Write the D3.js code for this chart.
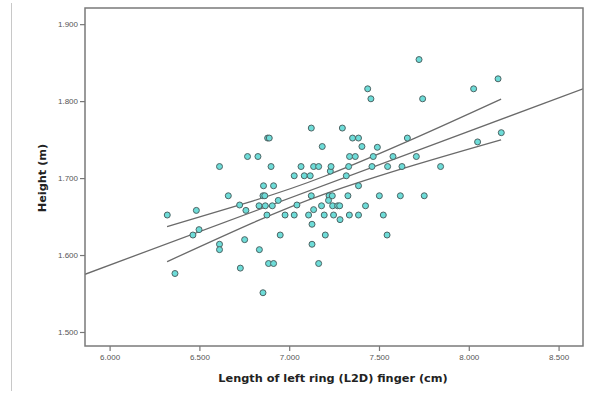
<!DOCTYPE html>
<html>
<head>
<meta charset="utf-8">
<script src="https://cdn.jsdelivr.net/npm/d3@7"></script>
<style>
  html, body { margin: 0; padding: 0; background: #fff; }
  svg { display: block; }
</style>
</head>
<body>
<svg id="chart" width="594" height="393"></svg>
<script>
// ---- Data ----
const fingerLength = [
  6.321, 6.364, 6.483, 6.464, 6.498, 6.612, 6.612, 6.612, 6.661, 6.724,
  6.759, 6.752, 6.728, 6.768, 6.826, 6.832, 6.834, 6.854, 6.857, 6.854,
  6.864, 6.867, 6.876, 6.880, 6.889, 6.899, 6.913, 6.906, 6.885, 6.913,
  6.939, 6.950, 6.977, 7.028, 7.028, 7.043, 7.066, 7.084, 7.117, 7.108,
  7.123, 7.123, 7.127, 7.127, 7.136, 7.136, 7.164, 7.184, 7.180, 7.195,
  7.201, 7.164, 7.229, 7.233, 7.222, 7.219, 7.240, 7.242, 7.247, 7.270,
  7.281, 7.283, 7.296, 7.318, 7.331, 7.327, 7.336, 7.335, 7.353, 7.368,
  7.386, 7.386, 7.386, 7.405, 7.425, 7.437, 7.455, 7.461, 7.468, 7.491,
  7.502, 7.524, 7.548, 7.545, 7.578, 7.619, 7.628, 7.658, 7.708, 7.723,
  7.743, 7.752, 7.843, 8.027, 8.049, 8.163, 8.181
];
const height = [
  1.652, 1.576, 1.658, 1.626, 1.633, 1.715, 1.614, 1.607, 1.677, 1.665,
  1.658, 1.620, 1.583, 1.728, 1.728, 1.664, 1.607, 1.551, 1.690, 1.677,
  1.677, 1.664, 1.652, 1.752, 1.752, 1.715, 1.690, 1.664, 1.589, 1.589,
  1.671, 1.626, 1.652, 1.652, 1.703, 1.665, 1.715, 1.703, 1.703, 1.652,
  1.765, 1.677, 1.640, 1.614, 1.659, 1.715, 1.715, 1.741, 1.664, 1.652,
  1.626, 1.589, 1.709, 1.715, 1.677, 1.671, 1.677, 1.664, 1.652, 1.664,
  1.664, 1.646, 1.765, 1.703, 1.715, 1.677, 1.728, 1.652, 1.752, 1.728,
  1.752, 1.690, 1.652, 1.741, 1.664, 1.816, 1.803, 1.715, 1.728, 1.740,
  1.677, 1.652, 1.715, 1.626, 1.728, 1.677, 1.715, 1.752, 1.728, 1.854,
  1.803, 1.677, 1.715, 1.816, 1.747, 1.829, 1.759
];

// Fit line (spans the whole plot) and mean confidence band
const fitLineX = [5.863, 8.636];
const fitLineY = [1.575, 1.816];
const ciX      = [6.32, 6.80, 7.20, 7.70, 8.18];
const ciUpper  = [1.637, 1.6705, 1.7027, 1.7519, 1.8026];
const ciLower  = [1.5914, 1.6421, 1.6795, 1.7171, 1.7497];

const xTicks = [6.0, 6.5, 7.0, 7.5, 8.0, 8.5];
const yTicks = [1.5, 1.6, 1.7, 1.8, 1.9];
const xTitle = "Length of left ring (L2D) finger (cm)";
const yTitle = "Height (m)";

// ---- Layout ----
const W = 594, H = 393;
const m = { left: 85, right: 11, top: 8, bottom: 47 };
const svg = d3.select("#chart");

const x = d3.scaleLinear().domain([5.863, 8.636]).range([m.left, W - m.right]);
const y = d3.scaleLinear().domain([1.4818, 1.921]).range([H - m.bottom, m.top]);

// left decorative rule
svg.append("line")
  .attr("x1", 11.5).attr("x2", 11.5).attr("y1", 3).attr("y2", 391)
  .attr("stroke", "#c8c8c8").attr("stroke-width", 1);

// plot clip
svg.append("clipPath").attr("id", "clip")
  .append("rect")
  .attr("x", m.left).attr("y", m.top)
  .attr("width", W - m.left - m.right).attr("height", H - m.top - m.bottom);

// axes
const fmt = d3.format(".3f");
const xAxis = svg.append("g")
  .attr("transform", `translate(0,${H - m.bottom})`)
  .call(d3.axisBottom(x).tickValues(xTicks).tickFormat(fmt).tickSize(5).tickPadding(3));
const yAxis = svg.append("g")
  .attr("transform", `translate(${m.left},0)`)
  .call(d3.axisLeft(y).tickValues(yTicks).tickFormat(fmt).tickSize(5).tickPadding(2));
[xAxis, yAxis].forEach(g => {
  g.select(".domain").remove();
  g.selectAll(".tick line").attr("stroke", "#777").attr("stroke-width", 1.2);
  g.selectAll(".tick text")
    .attr("fill", "#555")
    .style("font-family", "Liberation Sans, Arial, sans-serif")
    .style("font-size", "8px");
});

// lines
const g = svg.append("g").attr("clip-path", "url(#clip)");
const lineGen = d3.line().x(d => x(d[0])).y(d => y(d[1]));
const curveGen = d3.line().x(d => x(d[0])).y(d => y(d[1])).curve(d3.curveNatural);

g.append("path")
  .attr("d", lineGen(fitLineX.map((v, i) => [v, fitLineY[i]])))
  .attr("fill", "none").attr("stroke", "#6a6a6a").attr("stroke-width", 1.3);
g.append("path")
  .attr("d", curveGen(ciX.map((v, i) => [v, ciUpper[i]])))
  .attr("fill", "none").attr("stroke", "#6a6a6a").attr("stroke-width", 1.3);
g.append("path")
  .attr("d", curveGen(ciX.map((v, i) => [v, ciLower[i]])))
  .attr("fill", "none").attr("stroke", "#6a6a6a").attr("stroke-width", 1.3);

// points
g.selectAll("circle.pt")
  .data(fingerLength.map((v, i) => [v, height[i]]))
  .join("circle")
  .attr("class", "pt")
  .attr("cx", d => x(d[0]))
  .attr("cy", d => y(d[1]))
  .attr("r", 3)
  .attr("fill", "#6ddcd8")
  .attr("stroke", "#4d6464")
  .attr("stroke-width", 1);

// frame
svg.append("rect")
  .attr("x", m.left).attr("y", m.top)
  .attr("width", W - m.left - m.right).attr("height", H - m.top - m.bottom)
  .attr("fill", "none").attr("stroke", "#7a7a7a").attr("stroke-width", 1.5);

// titles
svg.append("text")
  .attr("x", 333).attr("y", 382)
  .attr("text-anchor", "middle")
  .attr("fill", "#222")
  .style("font-family", "DejaVu Sans, Verdana, sans-serif")
  .style("font-weight", "bold").style("font-size", "11.3px")
  .text(xTitle);
svg.append("text")
  .attr("transform", `translate(46,178) rotate(-90)`)
  .attr("text-anchor", "middle")
  .attr("fill", "#222")
  .style("font-family", "DejaVu Sans, Verdana, sans-serif")
  .style("font-weight", "bold").style("font-size", "11.3px")
  .text(yTitle);
</script>
</body>
</html>
